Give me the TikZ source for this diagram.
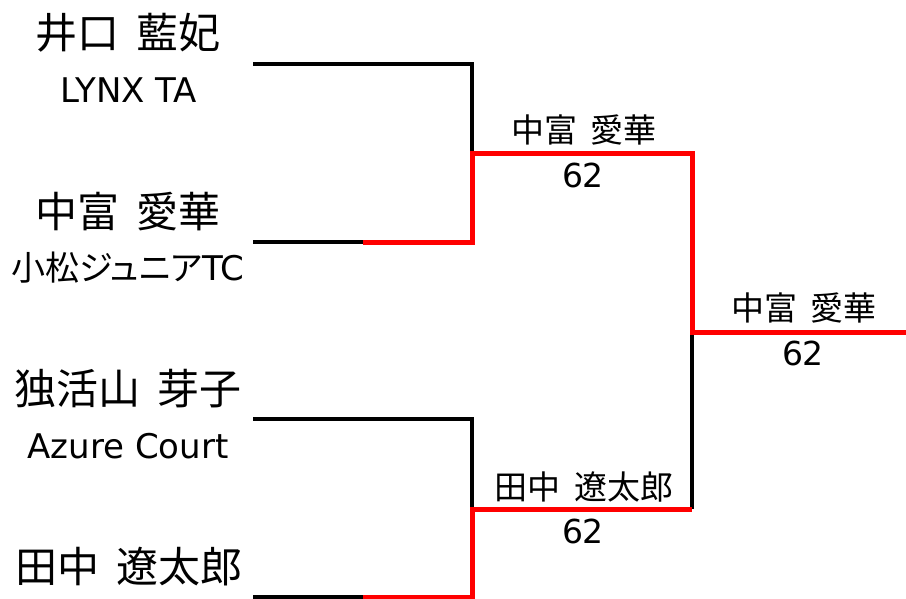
\documentclass[tikz,border=0pt]{standalone}
\usepackage{fontspec}
\setmainfont{DejaVu Sans}
\newfontfamily\cjk{Noto Sans CJK JP}
\newfontfamily\cjkp[RawFeature=+palt]{Noto Sans CJK JP}
\newcommand\jgap{\hskip 0.42em\relax}
\begin{document}
\begin{tikzpicture}[x=1pt,y=-1pt,
  blk/.style={draw=black,line width=3.5pt,line join=miter},
  win/.style={draw=red,line width=5pt,line join=miter},
  player/.style={inner sep=0pt,font=\cjk\fontsize{42}{48}\selectfont},
  team/.style={inner sep=0pt,font=\fontsize{34}{40}\selectfont},
  wname/.style={inner sep=0pt,font=\cjk\fontsize{33}{38}\selectfont},
  score/.style={inner sep=0pt,font=\fontsize{33}{38}\selectfont}]
\useasboundingbox (0,0) rectangle (906,598);
% player slots
\coordinate (p1) at (253,64);
\coordinate (p2) at (253,242);
\coordinate (p3) at (253,419);
\coordinate (p4) at (253,597);
\coordinate (c1) at (472,64);
\coordinate (c2) at (472,242);
\coordinate (h2) at (363,242);
\coordinate (c3) at (472,419);
\coordinate (c4) at (472,597);
\coordinate (h4) at (363,597);
\coordinate (m1) at (472,153);
\coordinate (m2) at (472,509);
\coordinate (e1) at (692,153);
\coordinate (e2) at (692,509);
\coordinate (f) at (692,332);
\coordinate (fe) at (906,332);
% names
\node[player] (n1) at (128,33) {井口\jgap 藍妃};
\node[team] (t1) at (129,90) {LYNX TA};
\node[player] (n2) at (128,212) {中富\jgap 愛華};
\node[team] (t2) at (128,268) {{\cjkp 小松ジュニア}TC};
\node[player] (n3) at (128,389) {独活山\jgap 芽子};
\node[team] (t3) at (128,446) {Azure Court};
\node[player] (n4) at (129,567) {田中\jgap 遼太郎};
% results
\node[wname] (w1) at (584,130) {中富\jgap 愛華};
\node[score] (s1) at (583,175) {62};
\node[wname] (w2) at (584,487) {田中\jgap 遼太郎};
\node[score] (s2) at (583,531) {62};
\node[wname] (w3) at (804,308) {中富\jgap 愛華};
\node[score] (s3) at (803,353) {62};
% bracket lines
\draw[blk] (p1) -- (c1) -- (m1);
\draw[blk] (p2) -- (h2);
\draw[blk] (p3) -- (c3) -- (m2);
\draw[blk] (p4) -- (h4);
\draw[blk] (e2) -- (f);
\draw[win] (h2) -- (c2) -- (m1) -- (e1) -- (f) -- (fe);
\draw[win] (h4) -- (c4) -- (m2) -- (e2);
\end{tikzpicture}
\end{document}
